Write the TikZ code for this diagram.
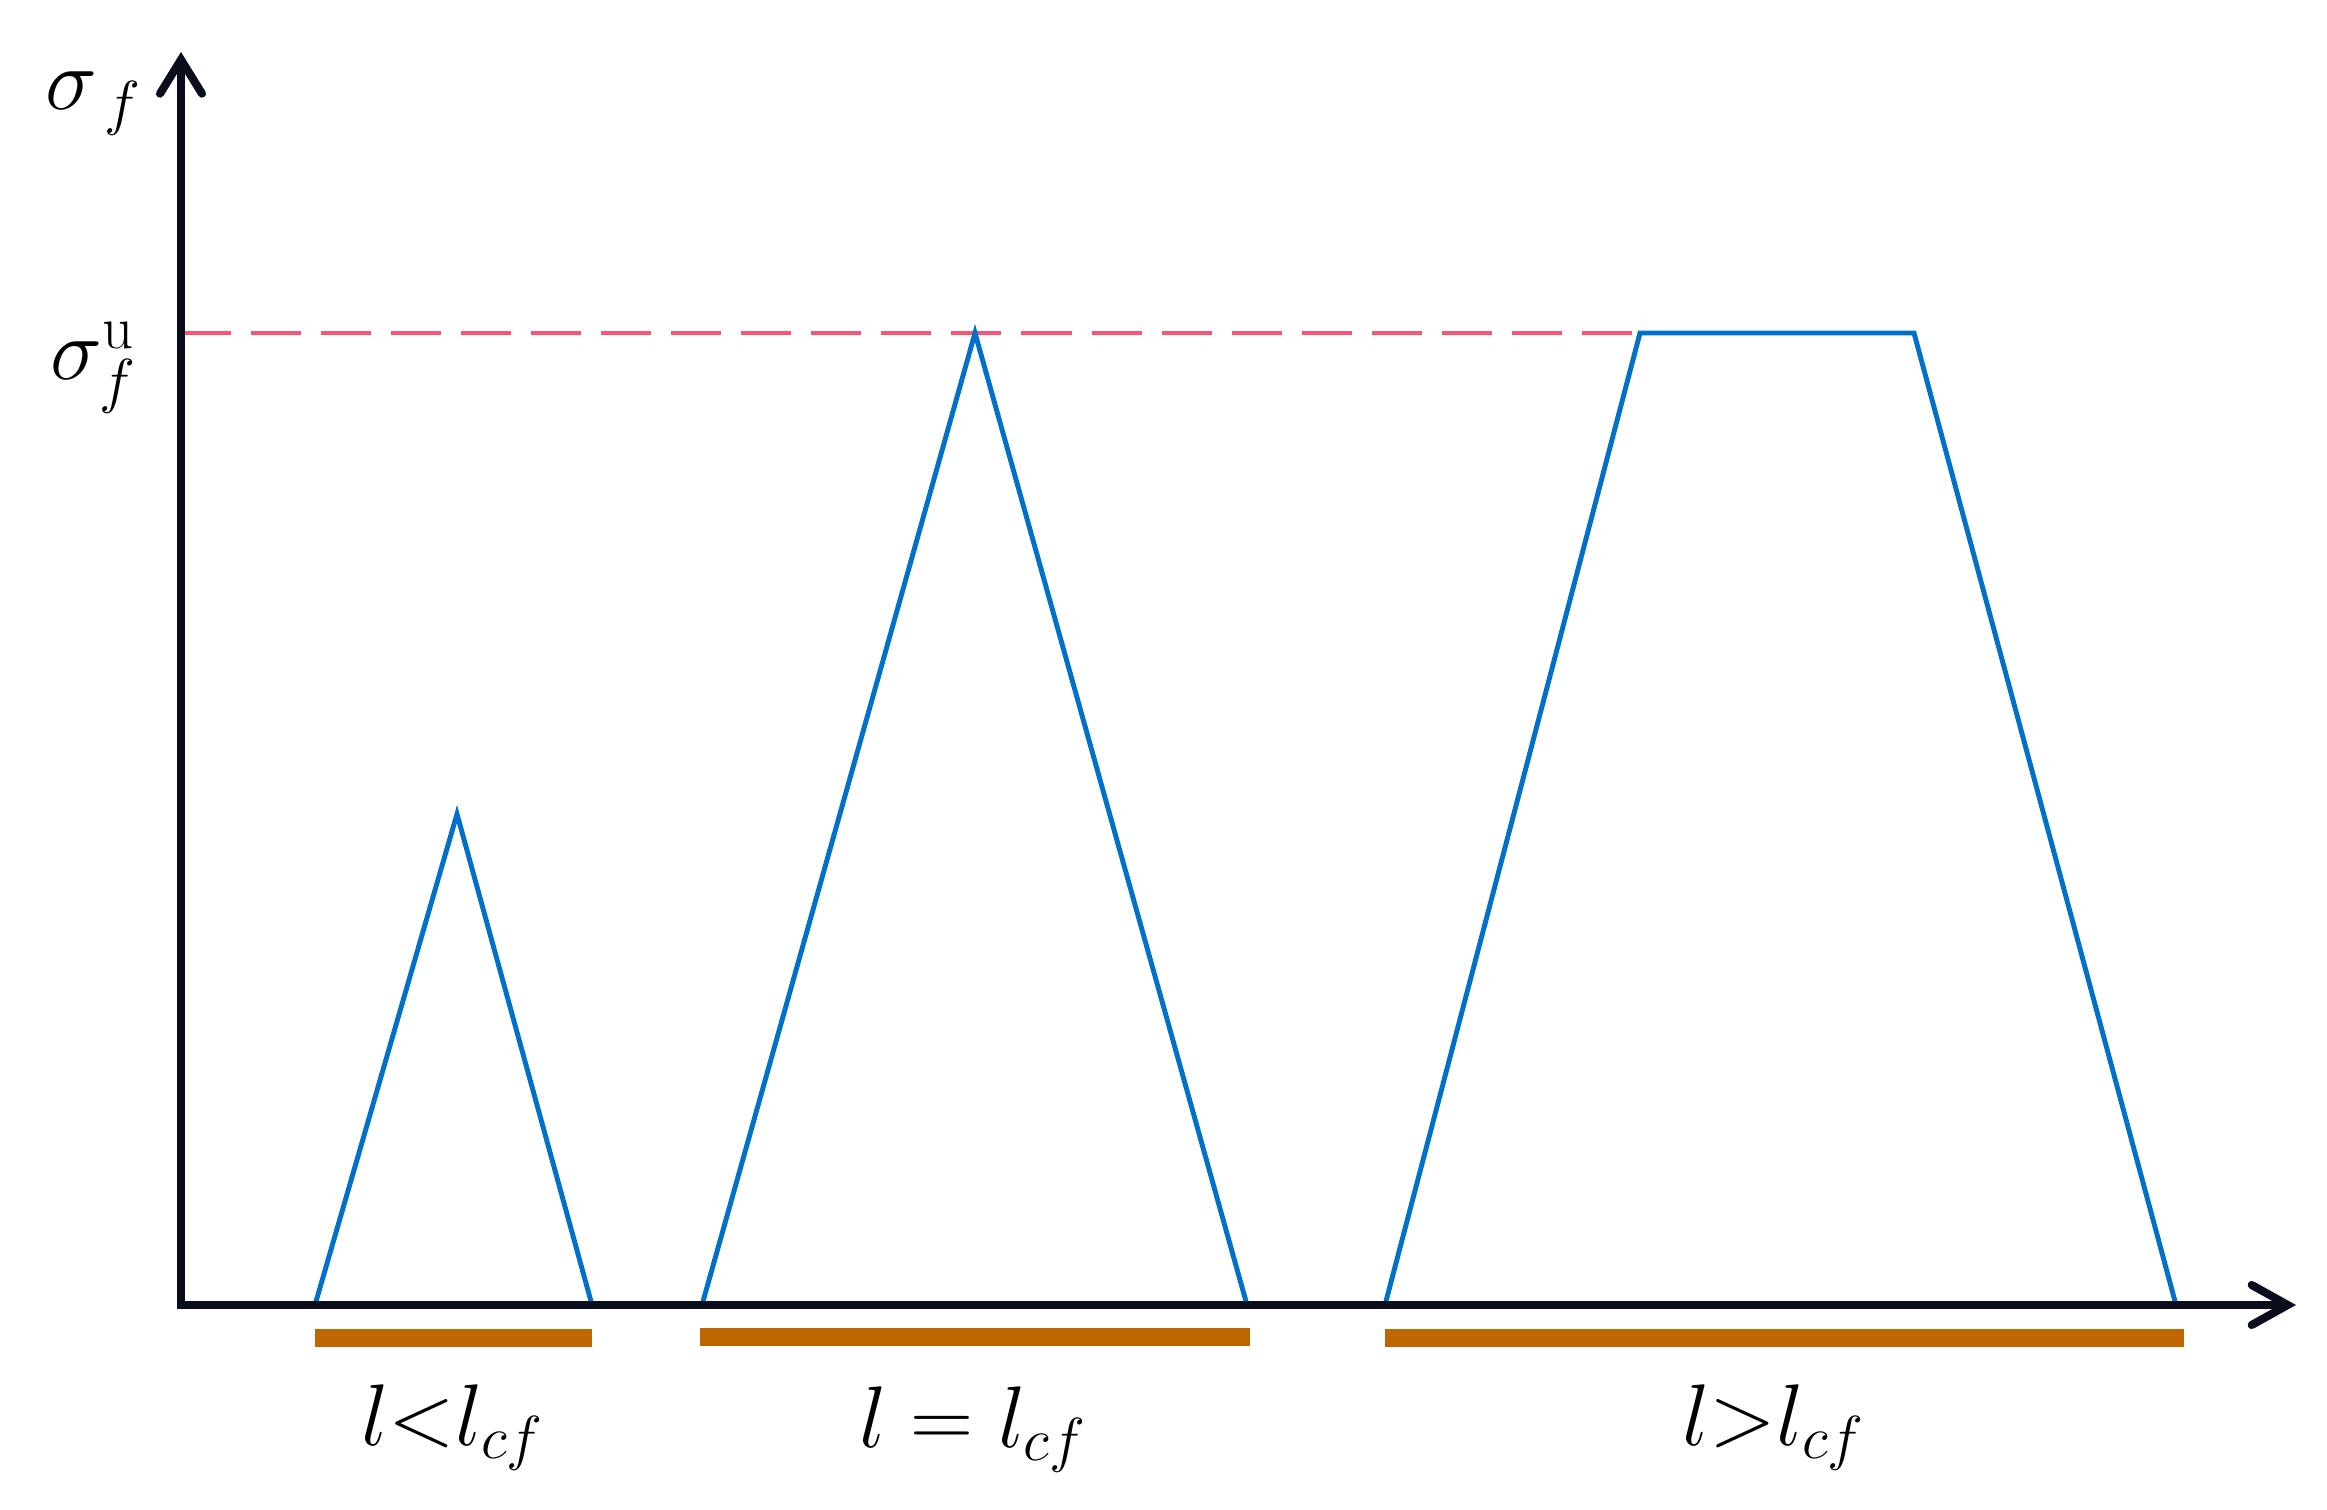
\documentclass[tikz,border=0pt]{standalone}
\usetikzlibrary{arrows.meta}
\definecolor{axiscol}{RGB}{10,14,28}
\definecolor{curveblue}{RGB}{0,112,200}
\definecolor{barorange}{RGB}{192,102,0}
\definecolor{dashpink}{RGB}{250,85,115}
\tikzset{
  axis/.style={draw=axiscol, line width=2.3pt, line join=miter,
    arrows={Straight Barb[length=0.34cm,width=0.42cm,line cap=round]-Straight Barb[length=0.36cm,width=0.40cm,line cap=round]}},
  curve/.style={draw=curveblue, line width=1.4pt, line join=miter},
  bar/.style={draw=barorange, line width=5.4pt, line cap=butt},
  limit/.style={draw=dashpink, line width=1.2pt, dash pattern=on 0.5cm off 0.2cm},
  lab/.style={inner sep=0pt, anchor=base, font=\fontsize{26}{30}\selectfont}
}
\begin{document}
\begin{tikzpicture}[x=0.01cm,y=-0.01cm]
\useasboundingbox (0,0) rectangle (2327,1510);
% axes
\coordinate (O) at (181,1305);
\coordinate (ytip) at (181,52);
\coordinate (xtip) at (2296,1305);
% dashed ultimate-stress line
\coordinate (dL) at (181,333);
\coordinate (dR) at (1640,333);
\draw[limit] (dL) -- (dR);
% triangle 1
\coordinate (a1) at (315,1305);
\coordinate (a2) at (457,814);
\coordinate (a3) at (592,1305);
\draw[curve] (a1) -- (a2) -- (a3);
% triangle 2
\coordinate (b1) at (702,1305);
\coordinate (b2) at (975,333);
\coordinate (b3) at (1247,1305);
\draw[curve] (b1) -- (b2) -- (b3);
% trapezoid
\coordinate (c1) at (1385,1305);
\coordinate (c2) at (1640,333);
\coordinate (c3) at (1914,333);
\coordinate (c4) at (2176,1305);
\draw[curve] (c1) -- (c2) -- (c3) -- (c4);
% axes on top
\draw[axis] (ytip) -- (O) -- (xtip);
% bars
\coordinate (p1) at (315,1338);
\coordinate (q1) at (592,1338);
\coordinate (p2) at (700,1337);
\coordinate (q2) at (1250,1337);
\coordinate (p3) at (1385,1338);
\coordinate (q3) at (2184,1338);
\draw[bar] (p1) -- (q1);
\draw[bar] (p2) -- (q2);
\draw[bar] (p3) -- (q3);
% labels
\node[lab] (ylab) at (94,110) {$\sigma_{\,f}$};
\node[lab] (ulab) at (94,380) {$\sigma_f^{\mathrm{u}}$};
\node[lab] (L1) at (453,1445) {$l{<}l_{cf}$};
\node[lab] (L2) at (973,1447) {$l=l_{cf}$};
\node[lab] (L3) at (1774,1445) {$l{>}l_{cf}$};
\end{tikzpicture}
\end{document}
